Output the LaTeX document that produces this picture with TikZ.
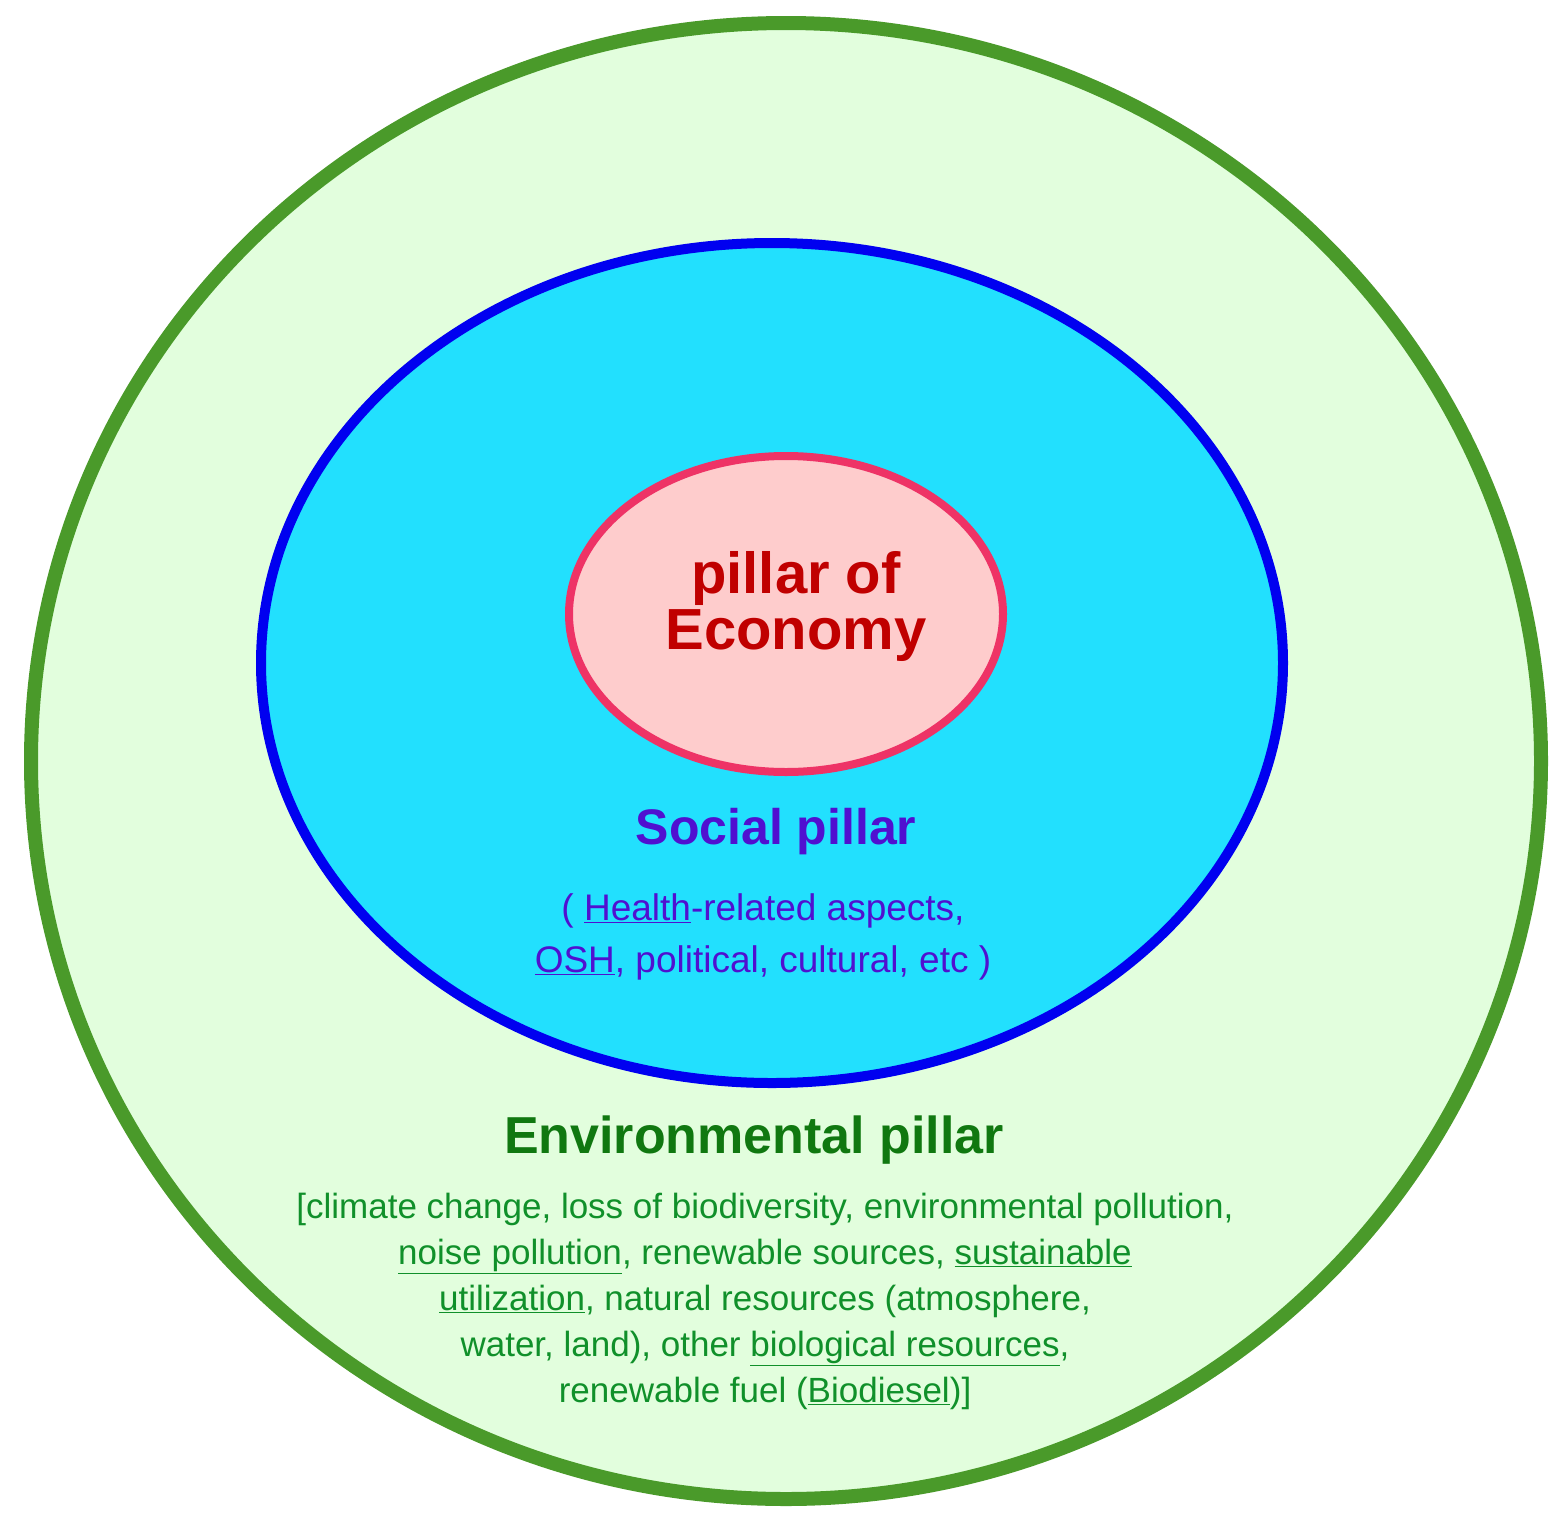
\documentclass[tikz,border=0pt]{standalone}
\usepackage{fontspec}
\setmainfont{Liberation Sans}
\definecolor{envfill}{HTML}{E2FEDD}
\definecolor{envline}{HTML}{4A9A2A}
\definecolor{socfill}{HTML}{22E0FE}
\definecolor{socline}{HTML}{0000F0}
\definecolor{ecofill}{HTML}{FECCCC}
\definecolor{ecoline}{HTML}{EE3366}
\definecolor{ecotext}{HTML}{C00000}
\definecolor{soctext}{HTML}{5010D0}
\definecolor{envtext}{HTML}{107810}
\definecolor{envsmall}{HTML}{10902A}
\begin{document}
\begin{tikzpicture}[x=1pt,y=-1pt,
  big/.style={font=\fontsize{#1}{#1}\selectfont\bfseries,align=center,inner sep=0},
  small/.style 2 args={font=\fontsize{#1}{#2}\selectfont,align=center,inner sep=0}]
\useasboundingbox (0,0) rectangle (1568,1526);
\draw[envline,fill=envfill,line width=14] (786,761) ellipse [x radius=755,y radius=738];
\draw[socline,fill=socfill,line width=10] (772,663) ellipse [x radius=511,y radius=420];
\draw[ecoline,fill=ecofill,line width=8] (786,614) ellipse [x radius=217,y radius=158];
\node[big=58,text=ecotext] (eco) at (796,606) {pillar of\\[-2pt]Economy};
\node[big=50,text=soctext] (soc) at (776,832) {Social pillar};
\node[small={37}{52},text=soctext] (socd) at (763,937) {( \underline{Health}-related aspects,\\\underline{OSH}, political, cultural, etc )};
\node[big=52,text=envtext] (env) at (754,1140) {Environmental pillar};
\node[small={35}{46},text=envsmall] (envd) at (765,1301) {[climate change, loss of biodiversity, environmental pollution,\\
\underline{noise pollution}, renewable sources, \underline{sustainable}\\
\underline{utilization}, natural resources (atmosphere,\\
water, land), other \underline{biological resources},\\
renewable fuel (\underline{Biodiesel})]};
\end{tikzpicture}
\end{document}
